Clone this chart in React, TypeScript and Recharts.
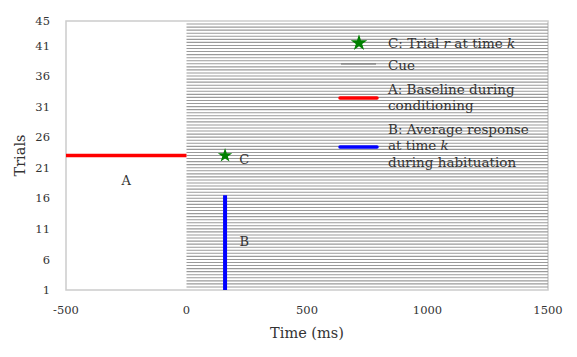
import React from 'react';
import {
  ComposedChart,
  XAxis,
  YAxis,
  Line,
  Scatter,
  ReferenceLine,
  ReferenceArea,
  ReferenceDot,
  Legend,
  Symbols,
} from 'recharts';

// axis ticks
const timeTicks = [-500, 0, 500, 1000, 1500];
const trialTicks = [1, 6, 11, 16, 21, 26, 31, 36, 41, 45];

// cue rows (one grey line per half trial), drawn from cue onset to end of window
const cueRows = [
  1.5, 2, 2.5, 3, 3.5, 4, 4.5, 5, 5.5, 6, 6.5, 7, 7.5, 8, 8.5, 9, 9.5, 10, 10.5, 11, 11.5,
  12, 12.5, 13, 13.5, 14, 14.5, 15, 15.5, 16, 16.5, 17, 17.5, 18, 18.5, 19, 19.5, 20, 20.5,
  21, 21.5, 22, 22.5, 23, 23.5, 24, 24.5, 25, 25.5, 26, 26.5, 27, 27.5, 28, 28.5, 29, 29.5,
  30, 30.5, 31, 31.5, 32, 32.5, 33, 33.5, 34, 34.5, 35, 35.5, 36, 36.5, 37, 37.5, 38, 38.5,
  39, 39.5, 40, 40.5, 41, 41.5, 42, 42.5, 43, 43.5, 44, 44.5,
];
const cueStart = 0;
const cueEnd = 1500;

// A: baseline during conditioning
const baselineTimes = [-500, 0];
const baselineTrials = [23, 23];

// B: average response at time k
const responseTimes = [160, 160];
const responseTrials = [1, 16.5];

// C: trial r at time k
const starTimes = [160];
const starTrials = [23];

// letter annotations
const annotations = ['A', 'B', 'C'];
const annotationTimes = [-250, 240, 240];
const annotationTrials = [19, 9, 22.4];

const baselineData = baselineTimes.map((t, i) => ({ t, y: baselineTrials[i] }));
const responseData = responseTimes.map((t, i) => ({ t, y: responseTrials[i] }));
const starData = starTimes.map((t, i) => ({ t, y: starTrials[i] }));

const FONT = '"DejaVu Serif", serif';
const TXT = '#333';
const LEG = 13.5;

const renderLegend = () => (
  <svg width={240} height={150} style={{ display: 'block', fontFamily: FONT }}>
    <Symbols cx={24} cy={13} type="star" size={85} fill="#008000" />
    <text x={53} y={18} fontSize={LEG} fill={TXT}>
      C: Trial <tspan fontStyle="italic">r</tspan> at time <tspan fontStyle="italic">k</tspan>
    </text>
    <line x1={6} x2={41} y1={34} y2={34} stroke="#666" strokeWidth={1} />
    <text x={53} y={40} fontSize={LEG} fill={TXT}>Cue</text>
    <line x1={5} x2={42} y1={68} y2={68} stroke="#ff0000" strokeWidth={3.5} strokeLinecap="round" />
    <text x={53} y={64} fontSize={LEG} fill={TXT}>A: Baseline during</text>
    <text x={53} y={80} fontSize={LEG} fill={TXT}>conditioning</text>
    <line x1={5} x2={42} y1={117} y2={117} stroke="#0000ff" strokeWidth={3.5} strokeLinecap="round" />
    <text x={53} y={104} fontSize={LEG} fill={TXT}>B: Average response</text>
    <text x={53} y={120} fontSize={LEG} fill={TXT}>
      at time <tspan fontStyle="italic">k</tspan>
    </text>
    <text x={53} y={137} fontSize={LEG} fill={TXT}>during habituation</text>
  </svg>
);

export default function App() {
  return (
    <div style={{ position: 'absolute', left: 0, top: 0, background: '#fff' }}>
      <ComposedChart
        width={577}
        height={357}
        margin={{ top: 21, right: 29, left: 0, bottom: 0 }}
        style={{ fontFamily: FONT }}
      >
        <XAxis
          dataKey="t"
          type="number"
          domain={[-500, 1500]}
          ticks={timeTicks}
          allowDataOverflow
          height={67}
          axisLine={false}
          tickLine={false}
          tickSize={0}
          tickMargin={16}
          tick={{ fontSize: 11.5, fill: TXT, fontFamily: FONT }}
          label={{ value: 'Time (ms)', position: 'insideBottom', offset: 19, fontSize: 14.5, fill: TXT, fontFamily: FONT }}
        />
        <YAxis
          dataKey="y"
          type="number"
          domain={[1, 45]}
          ticks={trialTicks}
          allowDataOverflow
          width={66}
          axisLine={false}
          tickLine={false}
          tickSize={0}
          tickMargin={16}
          tick={{ fontSize: 11.5, fill: TXT, fontFamily: FONT }}
          label={{
            value: 'Trials',
            angle: -90,
            position: 'insideLeft',
            offset: 20,
            fontSize: 14.5,
            fill: TXT,
            fontFamily: FONT,
            style: { textAnchor: 'middle' },
          }}
        />
        <ReferenceArea x1={-500} x2={1500} y1={1} y2={45} fill="none" stroke="#cccccc" strokeWidth={1.5} />
        {cueRows.map((r) => (
          <ReferenceLine
            key={r}
            segment={[
              { x: cueStart, y: r },
              { x: cueEnd, y: r },
            ]}
            stroke="#9a9a9a"
            strokeWidth={1.1}
          />
        ))}
        <Line
          data={baselineData}
          dataKey="y"
          stroke="#ff0000"
          strokeWidth={3.5}
          dot={false}
          isAnimationActive={false}
          legendType="none"
        />
        <Line
          data={responseData}
          dataKey="y"
          stroke="#0000ff"
          strokeWidth={4}
          dot={false}
          isAnimationActive={false}
          legendType="none"
        />
        <Scatter data={starData} dataKey="y" shape="star" fill="#008000" isAnimationActive={false} legendType="none" />
        {annotations.map((a, i) => (
          <ReferenceDot
            key={a}
            x={annotationTimes[i]}
            y={annotationTrials[i]}
            r={0}
            stroke="none"
            label={{ value: a, position: 'center', fontSize: 13, fill: TXT, fontFamily: FONT }}
          />
        ))}
        <Legend
          layout="vertical"
          align="center"
          verticalAlign="middle"
          content={renderLegend}
          wrapperStyle={{ top: 30, left: 335, width: 240 }}
        />
      </ComposedChart>
    </div>
  );
}
